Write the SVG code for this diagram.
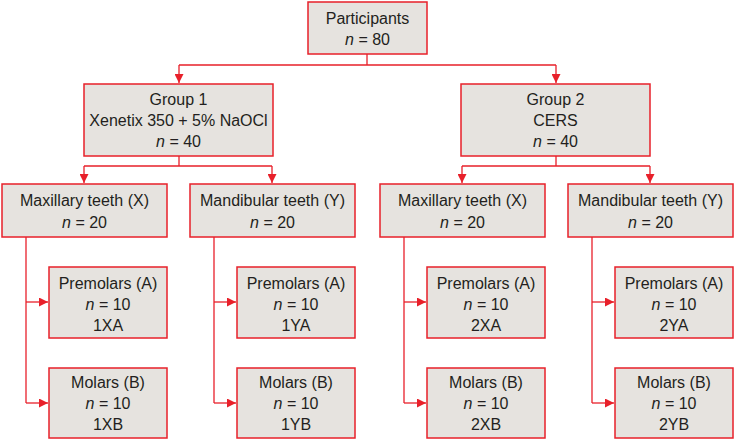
<svg xmlns="http://www.w3.org/2000/svg" width="735" height="440" viewBox="0 0 735 440">
<style>
.box{fill:#e6e3df;stroke:#e8202a;stroke-width:1.5}
.t{font-family:"Liberation Sans",Arial,sans-serif;font-size:16px;fill:#231f20;text-anchor:middle}
.i{font-style:italic}
.c{fill:none;stroke:#e8202a;stroke-width:1.3}
</style>
<defs>
<marker id="ah" viewBox="0 0 10 10" refX="10" refY="5" markerWidth="9" markerHeight="9" markerUnits="userSpaceOnUse" orient="auto">
<path d="M0,0 L10,5 L0,10 Z" fill="#e8202a"/>
</marker>
</defs>
<g id="connectors">
<path class="c" d="M367,54 V65 M179,65 H556"/>
<path class="c" d="M179,65 V83" marker-end="url(#ah)"/>
<path class="c" d="M556,65 V83" marker-end="url(#ah)"/>
<path class="c" d="M179,156 V166 M84,166 H272"/>
<path class="c" d="M84,166 V183" marker-end="url(#ah)"/>
<path class="c" d="M272,166 V183" marker-end="url(#ah)"/>
<path class="c" d="M556,156 V166 M462,166 H650"/>
<path class="c" d="M462,166 V183" marker-end="url(#ah)"/>
<path class="c" d="M650,166 V183" marker-end="url(#ah)"/>
<path class="c" d="M26,237 V403"/>
<path class="c" d="M26,302 H48" marker-end="url(#ah)"/>
<path class="c" d="M26,403 H48" marker-end="url(#ah)"/>
<path class="c" d="M214,237 V403"/>
<path class="c" d="M214,302 H236" marker-end="url(#ah)"/>
<path class="c" d="M214,403 H236" marker-end="url(#ah)"/>
<path class="c" d="M404,237 V403"/>
<path class="c" d="M404,302 H426" marker-end="url(#ah)"/>
<path class="c" d="M404,403 H426" marker-end="url(#ah)"/>
<path class="c" d="M592,237 V403"/>
<path class="c" d="M592,302 H614" marker-end="url(#ah)"/>
<path class="c" d="M592,403 H614" marker-end="url(#ah)"/>
</g>
<g id="participants">
<rect class="box" x="308" y="2" width="119" height="52"/>
<text class="t" x="367.5" y="24">Participants</text>
<text class="t" x="367.5" y="45"><tspan class="i">n</tspan> = 80</text>
</g>
<g id="group1">
<rect class="box" x="84" y="84" width="189" height="72"/>
<text class="t" x="178.5" y="105">Group 1</text>
<text class="t" x="178.5" y="126">Xenetix 350 + 5% NaOCl</text>
<text class="t" x="178.5" y="147"><tspan class="i">n</tspan> = 40</text>
</g>
<g id="group2">
<rect class="box" x="461" y="84" width="189" height="72"/>
<text class="t" x="555.5" y="105">Group 2</text>
<text class="t" x="555.5" y="126">CERS</text>
<text class="t" x="555.5" y="147"><tspan class="i">n</tspan> = 40</text>
</g>
<g id="max1">
<rect class="box" x="2" y="184" width="165" height="53"/>
<text class="t" x="84.5" y="206">Maxillary teeth (X)</text>
<text class="t" x="84.5" y="228"><tspan class="i">n</tspan> = 20</text>
</g>
<g id="mand1">
<rect class="box" x="190" y="184" width="165" height="53"/>
<text class="t" x="272.5" y="206">Mandibular teeth (Y)</text>
<text class="t" x="272.5" y="228"><tspan class="i">n</tspan> = 20</text>
</g>
<g id="max2">
<rect class="box" x="380" y="184" width="165" height="53"/>
<text class="t" x="462.5" y="206">Maxillary teeth (X)</text>
<text class="t" x="462.5" y="228"><tspan class="i">n</tspan> = 20</text>
</g>
<g id="mand2">
<rect class="box" x="568" y="184" width="165" height="53"/>
<text class="t" x="650.5" y="206">Mandibular teeth (Y)</text>
<text class="t" x="650.5" y="228"><tspan class="i">n</tspan> = 20</text>
</g>
<g id="p1xa">
<rect class="box" x="49" y="267" width="118" height="71"/>
<text class="t" x="108" y="289">Premolars (A)</text>
<text class="t" x="108" y="310"><tspan class="i">n</tspan> = 10</text>
<text class="t" x="108" y="331">1XA</text>
</g>
<g id="m1xb">
<rect class="box" x="49" y="368" width="118" height="70"/>
<text class="t" x="108" y="388">Molars (B)</text>
<text class="t" x="108" y="409"><tspan class="i">n</tspan> = 10</text>
<text class="t" x="108" y="430">1XB</text>
</g>
<g id="p1ya">
<rect class="box" x="237" y="267" width="118" height="71"/>
<text class="t" x="296" y="289">Premolars (A)</text>
<text class="t" x="296" y="310"><tspan class="i">n</tspan> = 10</text>
<text class="t" x="296" y="331">1YA</text>
</g>
<g id="m1yb">
<rect class="box" x="237" y="368" width="118" height="70"/>
<text class="t" x="296" y="388">Molars (B)</text>
<text class="t" x="296" y="409"><tspan class="i">n</tspan> = 10</text>
<text class="t" x="296" y="430">1YB</text>
</g>
<g id="p2xa">
<rect class="box" x="427" y="267" width="118" height="71"/>
<text class="t" x="486" y="289">Premolars (A)</text>
<text class="t" x="486" y="310"><tspan class="i">n</tspan> = 10</text>
<text class="t" x="486" y="331">2XA</text>
</g>
<g id="m2xb">
<rect class="box" x="427" y="368" width="118" height="70"/>
<text class="t" x="486" y="388">Molars (B)</text>
<text class="t" x="486" y="409"><tspan class="i">n</tspan> = 10</text>
<text class="t" x="486" y="430">2XB</text>
</g>
<g id="p2ya">
<rect class="box" x="615" y="267" width="118" height="71"/>
<text class="t" x="674" y="289">Premolars (A)</text>
<text class="t" x="674" y="310"><tspan class="i">n</tspan> = 10</text>
<text class="t" x="674" y="331">2YA</text>
</g>
<g id="m2yb">
<rect class="box" x="615" y="368" width="118" height="70"/>
<text class="t" x="674" y="388">Molars (B)</text>
<text class="t" x="674" y="409"><tspan class="i">n</tspan> = 10</text>
<text class="t" x="674" y="430">2YB</text>
</g>
</svg>
